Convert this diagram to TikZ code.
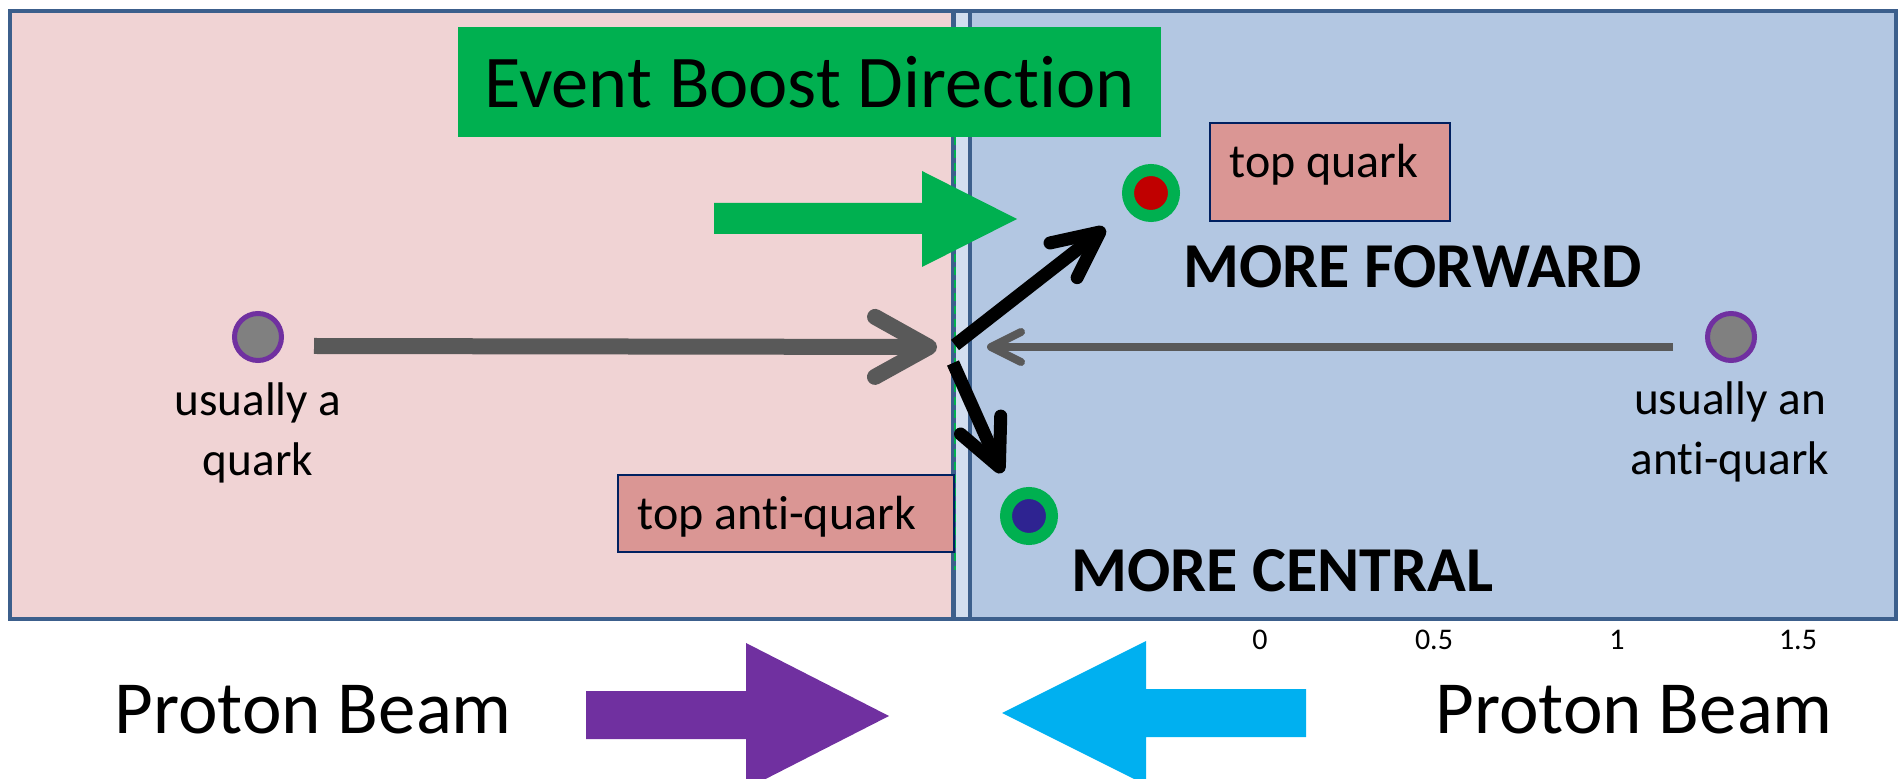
\documentclass[tikz,border=0pt]{standalone}
\usepackage{fontspec}
\setmainfont{Carlito}[Ligatures=NoCommon]
\usetikzlibrary{arrows.meta}

\definecolor{frameblue}{RGB}{60,95,140}
\definecolor{pinkfill}{RGB}{240,211,212}
\definecolor{bluefill}{RGB}{179,199,226}
\definecolor{stripfill}{RGB}{210,222,239}
\definecolor{boostgreen}{RGB}{0,176,80}
\definecolor{beampurple}{RGB}{112,48,160}
\definecolor{beamcyan}{RGB}{0,176,240}
\definecolor{shaftgray}{RGB}{89,89,89}
\definecolor{partongray}{RGB}{128,128,128}
\definecolor{topred}{RGB}{192,0,0}
\definecolor{topblue}{RGB}{46,35,145}
\definecolor{tagfill}{RGB}{218,150,148}
\definecolor{tagline}{RGB}{0,32,96}

\tikzset{
  panel/.style={draw=frameblue, line width=2.3pt},
  boostbox/.style={fill=boostgreen, inner sep=0pt, minimum width=351.5pt,
    minimum height=55pt, font=\fontsize{37.2}{41}\selectfont},
  parton/.style={circle, draw=beampurple, fill=partongray, line width=2.5pt,
    minimum size=23.5pt, inner sep=0pt},
  topdot/.style={circle, draw=boostgreen, line width=6pt, minimum size=23pt,
    inner sep=0pt},
  tagbox/.style={draw=tagline, fill=tagfill, line width=1pt, inner sep=0pt},
  tagtext/.style={inner sep=0pt, anchor=base west,
    font=\fontsize{24}{28}\selectfont},
  smalltext/.style={inner sep=0pt, align=center, anchor=base,
    font=\fontsize{23.6}{28.5}\selectfont},
  bigbold/.style={inner sep=0pt, anchor=base west,
    font=\fontsize{32}{36}\selectfont\bfseries},
  beamtext/.style={inner sep=0pt, anchor=base west,
    font=\fontsize{37.5}{41}\selectfont},
  tick/.style={inner sep=0pt, anchor=base, font=\fontsize{15}{17}\selectfont},
  momentum/.style={draw=black, line width=6.5pt,
    -{Straight Barb[length=23pt, width=22pt, round]}},
  incoming/.style={draw=shaftgray},
}

\begin{document}
\begin{tikzpicture}[x=0.5pt, y=-0.5pt]
\useasboundingbox (0,0) rectangle (1899,779);
\clip (0,0) rectangle (1899,779);

% detector halves
\draw[panel, fill=stripfill] (10,11) rectangle (1896,619);
\draw[panel, fill=pinkfill] (10,11) rectangle (953.5,619);
\draw[panel, fill=bluefill] (970,11) rectangle (1896,619);
\draw[boostgreen, line width=1pt, dash pattern=on 4pt off 2.5pt] (954.5,137) -- (954.5,570);

% boost direction banner and arrow
\node[boostbox] (boost) at (809.5,82) {Event Boost Direction};
\fill[boostgreen] (714,203) -- (922,203) -- (922,171) -- (1017,219)
  -- (922,267) -- (922,234) -- (714,234) -- cycle;

% incoming partons
\node[parton] (q) at (258,337) {};
\node[parton] (qbar) at (1731,337) {};
\node[smalltext] (qlab) at (258,476) {usually a\\[1.5pt]quark};
\node[smalltext] (qbarlab) at (1730,475) {usually an\\[1.5pt]anti-quark};

\coordinate (qstart) at (314,346);
\coordinate (hitL) at (937,347);
\coordinate (qbarstart) at (1673,347);
\coordinate (hitR) at (987,347);
\draw[incoming, line width=8pt, -{Straight Barb[length=27pt, width=30pt, round]}]
  (qstart) -- (hitL);
\draw[incoming, line width=4pt, -{Straight Barb[length=15pt, width=15pt, round]}]
  (qbarstart) -- (hitR);

% produced top pair
\node[topdot, fill=topred] (t) at (1151,193) {};
\node[topdot, fill=topblue] (tbar) at (1029,516) {};

\coordinate (vtxF) at (955,345);
\coordinate (tipF) at (1105,228);
\coordinate (vtxC) at (953,363);
\coordinate (tipC) at (1002,473);
\draw[momentum] (vtxF) -- (tipF);
\draw[momentum] (vtxC) -- (tipC);

\node[tagbox, minimum width=120pt, minimum height=49pt] (ttag) at (1330,172) {};
\node[tagtext] (ttagtext) at (1229,178) {top quark};
\node[tagbox, minimum width=168pt, minimum height=38.5pt] (tbartag) at (786,513.5) {};
\node[tagtext] (tbartagtext) at (637,530) {top anti-quark};

\node[bigbold] (fwd) at (1183,288) {MORE FORWARD};
\node[bigbold] (ctr) at (1071,592) {MORE CENTRAL};

% axis numbers
\node[tick] (n0) at (1260,649) {0};
\node[tick] (n05) at (1434,649) {0.5};
\node[tick] (n1) at (1617,649) {1};
\node[tick] (n15) at (1798,649) {1.5};

% beams
\node[beamtext] (pbL) at (114,733) {Proton Beam};
\node[beamtext] (pbR) at (1435,733) {Proton Beam};
\fill[beampurple] (586,691) -- (746,691) -- (746,643) -- (889,716)
  -- (746,789) -- (746,739) -- (586,739) -- cycle;
\fill[beamcyan] (1306,689) -- (1146,689) -- (1146,641) -- (1002,713)
  -- (1146,785) -- (1146,737) -- (1306,737) -- cycle;
\end{tikzpicture}
\end{document}
